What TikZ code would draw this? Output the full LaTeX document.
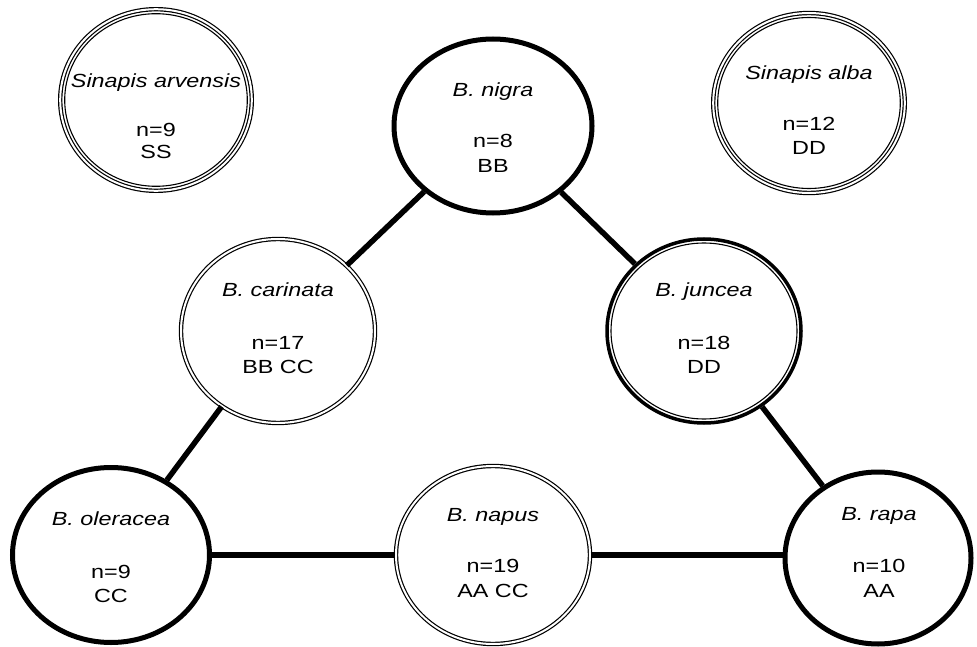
\documentclass[tikz,border=0pt]{standalone}
\usepackage{fontspec}
\setmainfont{Liberation Sans}
\usepackage{graphicx}
\usetikzlibrary{shapes.geometric}
\newcommand{\stx}[1]{\scalebox{1.23}[1]{#1}}
\tikzset{
  sp/.style={shape=ellipse, inner sep=0pt, outer sep=auto, fill=white},
  thickb/.style={draw, line width=5pt},
  dblb/.style={draw, line width=1.2pt, double=white, double distance=2pt},
  jnc/.style={draw, line width=3.5pt},
  thinl/.style={line width=1.1pt},
  conn/.style={line width=5.5pt},
  lbl/.style={anchor=base, inner sep=0pt, font=\fontsize{19}{23}\selectfont},
}
\begin{document}
\begin{tikzpicture}[x=1pt,y=-1pt]
\useasboundingbox (0,0) rectangle (977,647);
% species ellipses
\node[sp, dblb, minimum width=191.6pt, minimum height=181.6pt] (arvensis) at (156,100) {};
\draw[thinl] (arvensis.center) ellipse [x radius=91.3pt, y radius=86.3pt];
\node[sp, dblb, minimum width=191.6pt, minimum height=180pt] (alba) at (809,103) {};
\draw[thinl] (alba.center) ellipse [x radius=91.3pt, y radius=85.5pt];
\node[sp, thickb, minimum width=198pt, minimum height=174pt] (nigra) at (493,126) {};
\node[sp, dblb, minimum width=194pt, minimum height=184pt] (carinata) at (278,331) {};
\node[sp, jnc, minimum width=194pt, minimum height=184pt] (juncea) at (704,331) {};
\draw[thinl] (juncea.center) ellipse [x radius=93pt, y radius=88pt];
\node[sp, thickb, minimum width=197pt, minimum height=175pt] (oleracea) at (111,555) {};
\node[sp, dblb, minimum width=194pt, minimum height=178pt] (napus) at (493,555) {};
\node[sp, thickb, minimum width=186pt, minimum height=172pt] (rapa) at (878,558) {};
% connectors
\draw[conn] (nigra) -- (carinata);
\draw[conn] (nigra) -- (juncea);
\draw[conn] (carinata) -- (oleracea);
\draw[conn] (juncea) -- (rapa);
\draw[conn] (oleracea.east) -- (napus.west);
\draw[conn] (napus.east) -- (napus.east -| rapa.west);
% labels
\node[lbl] (arvensis-a) at (156,88)  {\stx{\itshape Sinapis arvensis}};
\node[lbl] (arvensis-b) at (156,137) {\stx{n=9}};
\node[lbl] (arvensis-c) at (156,159) {\stx{SS}};
\node[lbl] (alba-a) at (809,80)  {\stx{\itshape Sinapis alba}};
\node[lbl] (alba-b) at (809,131) {\stx{n=12}};
\node[lbl] (alba-c) at (809,155) {\stx{DD}};
\node[lbl] (nigra-a) at (493,97)  {\stx{\itshape B. nigra}};
\node[lbl] (nigra-b) at (493,148) {\stx{n=8}};
\node[lbl] (nigra-c) at (493,173) {\stx{BB}};
\node[lbl] (carinata-a) at (278,296) {\stx{\itshape B. carinata}};
\node[lbl] (carinata-b) at (278,349) {\stx{n=17}};
\node[lbl] (carinata-c) at (278,373) {\stx{BB CC}};
\node[lbl] (juncea-a) at (704,296) {\stx{\itshape B. juncea}};
\node[lbl] (juncea-b) at (704,349) {\stx{n=18}};
\node[lbl] (juncea-c) at (704,373) {\stx{DD}};
\node[lbl] (oleracea-a) at (111,525) {\stx{\itshape B. oleracea}};
\node[lbl] (oleracea-b) at (111,578) {\stx{n=9}};
\node[lbl] (oleracea-c) at (111,602) {\stx{CC}};
\node[lbl] (napus-a) at (493,521) {\stx{\itshape B. napus}};
\node[lbl] (napus-b) at (493,572) {\stx{n=19}};
\node[lbl] (napus-c) at (493,597) {\stx{AA CC}};
\node[lbl] (rapa-a) at (879,520) {\stx{\itshape B. rapa}};
\node[lbl] (rapa-b) at (879,572) {\stx{n=10}};
\node[lbl] (rapa-c) at (879,597) {\stx{AA}};
\end{tikzpicture}
\end{document}
